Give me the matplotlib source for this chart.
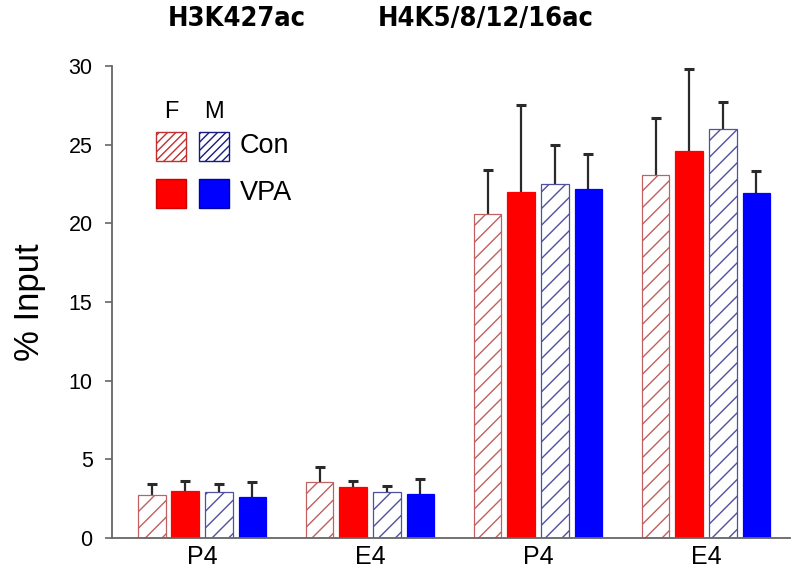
import numpy as np
import matplotlib
matplotlib.use("Agg")
import matplotlib.pyplot as plt
from matplotlib.patches import Rectangle

plt.rcParams['font.family'] = ['Liberation Sans', 'DejaVu Sans']
plt.rcParams['hatch.linewidth'] = 1.0

# data
groups = ['P4', 'E4', 'P4', 'E4']
f_con = [2.75, 3.55, 20.6, 23.1]
f_con_err = [0.67, 0.99, 2.8, 3.6]
f_vpa = [3.0, 3.21, 22.0, 24.6]
f_vpa_err = [0.64, 0.43, 5.5, 5.2]
m_con = [2.93, 2.93, 22.5, 26.0]
m_con_err = [0.49, 0.39, 2.5, 1.7]
m_vpa = [2.63, 2.77, 22.2, 21.9]
m_vpa_err = [0.92, 1.0, 2.2, 1.4]

series = [
    (f_con, f_con_err, dict(color='white', edgecolor='#c06060', hatch='//')),
    (f_vpa, f_vpa_err, dict(color='#ff0000', edgecolor='#ff0000')),
    (m_con, m_con_err, dict(color='white', edgecolor='#5050a0', hatch='//')),
    (m_vpa, m_vpa_err, dict(color='#0000ff', edgecolor='#0000ff')),
]
offsets = [-0.3, -0.1, 0.1, 0.3]
width = 0.165

fig = plt.figure(figsize=(8, 5.83), dpi=100)
ax = fig.add_axes([0.14, 0.0772, 0.8475, 0.8096])

x = np.arange(len(groups))
for (vals, errs, style), off in zip(series, offsets):
    ax.bar(x + off, vals, width, linewidth=0.9, zorder=2, **style)
    eb = ax.errorbar(x + off, vals, yerr=[np.zeros(len(errs)), errs], fmt='none',
                     ecolor='#2a2a2a', elinewidth=1.6, capsize=3.6, capthick=2.2, zorder=1)
    # only keep the upper caps
    for cl in eb[1]:
        if np.allclose(cl.get_ydata(), vals):
            cl.set_visible(False)

ax.set_xlim(-0.536, 3.5)
ax.set_ylim(0, 30)
ax.set_yticks(range(0, 31, 5))
ax.set_xticks(x)
ax.set_xticklabels(groups, fontsize=18)
ax.tick_params(axis='x', length=0, pad=5)
ax.tick_params(axis='y', labelsize=15.5, direction='out', length=5, color='#666666', width=1.2, pad=9)
for s in ['top', 'right']:
    ax.spines[s].set_visible(False)
for s in ['left', 'bottom']:
    ax.spines[s].set_color('#666666')
    ax.spines[s].set_linewidth(1.3)
ax.set_ylabel('% Input', fontsize=25, labelpad=16)

# panel titles
tfont = dict(family='DejaVu Sans', fontstretch='condensed', fontsize=19.5, fontweight='bold',
             ha='center', va='center')
fig.text(0.296, 0.968, 'H3K427ac', **tfont)
fig.text(0.6075, 0.968, 'H4K5/8/12/16ac', **tfont)

# hand-made legend
fig.text(0.214, 0.808, 'F', fontsize=17, ha='center', va='center')
fig.text(0.2675, 0.808, 'M', fontsize=17, ha='center', va='center')
leg = [
    (0.195, 0.7244, dict(facecolor='white', edgecolor='#c03030', hatch='////')),
    (0.249, 0.7244, dict(facecolor='white', edgecolor='#1a1a80', hatch='////')),
    (0.195, 0.643, dict(facecolor='#ff0000', edgecolor='#cc0000')),
    (0.249, 0.643, dict(facecolor='#0000ff', edgecolor='#0000aa')),
]
for lx, ly, st in leg:
    fig.add_artist(Rectangle((lx, ly), 0.0375, 0.0497, transform=fig.transFigure,
                             linewidth=1.0, **st))
fig.text(0.30, 0.7496, 'Con', fontsize=19.5, va='center')
fig.text(0.30, 0.669, 'VPA', fontsize=19.5, va='center')

fig.savefig('out.png', dpi=100)
